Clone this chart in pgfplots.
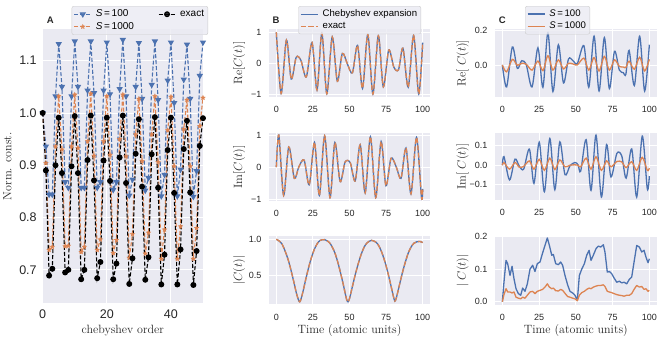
\documentclass[border=0pt]{standalone}
\usepackage{fontspec}
\usepackage{pgfplots}
\usepackage{pgfplotstable}
\pgfplotsset{compat=1.18}
\newfontfamily\lsans{Liberation Sans}
\definecolor{bgcol}{HTML}{EAEAF2}
\definecolor{cblue}{HTML}{4C72B0}
\definecolor{corange}{HTML}{DD8452}
\definecolor{framecol}{HTML}{CCCCCC}

% filled star marker (matplotlib '*')
\pgfdeclareplotmark{fstar}{%
  \pgfpathmoveto{\pgfpointpolar{90}{\pgfplotmarksize}}%
  \pgfpathlineto{\pgfpointpolar{126}{0.45\pgfplotmarksize}}%
  \pgfpathlineto{\pgfpointpolar{162}{\pgfplotmarksize}}%
  \pgfpathlineto{\pgfpointpolar{198}{0.45\pgfplotmarksize}}%
  \pgfpathlineto{\pgfpointpolar{234}{\pgfplotmarksize}}%
  \pgfpathlineto{\pgfpointpolar{270}{0.45\pgfplotmarksize}}%
  \pgfpathlineto{\pgfpointpolar{306}{\pgfplotmarksize}}%
  \pgfpathlineto{\pgfpointpolar{342}{0.45\pgfplotmarksize}}%
  \pgfpathlineto{\pgfpointpolar{18}{\pgfplotmarksize}}%
  \pgfpathlineto{\pgfpointpolar{54}{0.45\pgfplotmarksize}}%
  \pgfpathclose
  \pgfusepathqfillstroke
}

% panel A: normalisation constant vs chebyshev order
\pgfplotstableread{
x  a     b     e
0  1.000 1.000 1.000
1  0.936 0.904 0.890
2  0.844 0.738 0.689
3  0.844 0.744 0.702
4  1.032 0.936 0.900
5  1.132 1.032 0.991
6  1.050 0.930 0.885
7  0.868 0.745 0.695
8  0.857 0.746 0.700
9  1.032 0.936 0.898
10 1.137 1.035 0.994
11 1.050 0.933 0.885
12 0.857 0.734 0.682
13 0.857 0.744 0.700
14 1.043 0.946 0.910
15 1.137 1.037 0.995
16 1.038 0.918 0.871
17 0.857 0.738 0.684
18 0.868 0.758 0.715
19 1.043 0.946 0.909
20 1.135 1.032 0.991
21 1.036 0.920 0.870
22 0.853 0.732 0.682
23 0.868 0.757 0.712
24 1.046 0.950 0.915
25 1.140 1.035 0.995
26 1.032 0.917 0.866
27 0.842 0.723 0.673
28 0.873 0.768 0.722
29 1.050 0.959 0.922
30 1.134 1.027 0.988
31 1.027 0.908 0.859
32 0.852 0.731 0.681
33 0.876 0.771 0.724
34 1.054 0.959 0.921
35 1.137 1.032 0.992
36 1.025 0.906 0.857
37 0.841 0.721 0.672
38 0.882 0.777 0.729
39 1.062 0.967 0.929
40 1.135 1.031 0.991
41 1.019 0.898 0.847
42 0.841 0.721 0.672
43 0.892 0.783 0.739
44 1.064 0.969 0.931
45 1.131 1.025 0.985
46 1.027 0.898 0.848
47 0.840 0.721 0.671
48 0.889 0.780 0.736
49 1.071 0.975 0.937
50 1.135 1.029 0.990
}\normA

\pgfplotstableread{
t    v
0    1.00
3.3  -0.96
6.9  0.75
10.2 -0.50
13.6 0.20
16.8 0.10
20.5 -0.43
24.4 0.67
27.8 -0.85
31.1 0.97
34.5 -0.97
38.2 0.85
41.7 -0.57
45.1 0.32
48.6 -0.02
52.0 -0.30
55.5 0.58
58.9 -0.80
62.5 0.93
66.0 -0.98
69.7 0.89
73.1 -0.75
76.8 0.43
80.3 -0.12
83.5 -0.20
86.5 0.49
90.1 -0.76
93.8 0.90
97.3 -0.98
100  0.67
}\reC

\pgfplotstableread{
t    v
0    0.00
1.7  1.00
5.0  -0.88
8.5  0.63
12.3 -0.35
15.3 0.00
19.0 0.22
22.5 -0.55
26.1 0.77
29.4 -0.88
33.0 0.98
36.7 -0.95
40.0 0.77
43.6 -0.45
47.0 0.16
50.5 0.14
53.9 -0.43
57.3 0.70
60.7 -0.80
64.3 0.95
67.9 -0.95
71.6 0.80
74.9 -0.58
78.4 0.28
82.0 0.00
85.2 -0.35
88.6 0.60
92.0 -0.83
95.8 0.93
99.2 -0.95
100  -0.68
}\imC

\pgfplotstableread{
t   v
0   1.000
2   0.975
4   0.930
6   0.835
8   0.720
10  0.570
12  0.400
14  0.225
16  0.125
18  0.250
20  0.430
22  0.600
24  0.745
26  0.860
28  0.940
30  0.985
33  0.995
36  0.960
38  0.900
40  0.810
42  0.680
44  0.520
46  0.345
48  0.160
49  0.125
50  0.170
52  0.340
54  0.510
56  0.660
58  0.790
60  0.890
62  0.950
65  0.985
68  0.960
70  0.910
72  0.820
74  0.700
76  0.550
78  0.380
80  0.200
81  0.135
82  0.180
84  0.350
86  0.520
88  0.670
90  0.800
92  0.890
94  0.945
96  0.965
98  0.970
100 0.955
}\absC

\pgfplotstableread{
t    a      b
0    0.000  0.000
2.9  -0.128 -0.040
6.8  0.105  0.033
10.2 -0.020 -0.002
13.2 0.025  0.010
16.3 0.000  0.004
20.2 -0.128 -0.030
24.2 0.100  0.023
27.6 -0.130 -0.033
31.0 0.188  0.054
34.4 -0.155 -0.030
38.1 0.118  0.030
41.6 -0.105 -0.023
45.0 0.035  0.010
48.0 0.025  0.006
51.0 0.008  0.000
55.5 0.112  0.040
58.8 -0.130 -0.030
62.4 0.168  0.043
65.8 -0.152 -0.035
69.4 0.160  0.050
72.8 -0.138 -0.030
76.3 0.080  0.030
79.6 -0.030 -0.008
82.3 -0.045 -0.012
84.0 -0.055 -0.015
86.2 0.085  0.022
89.8 -0.120 -0.025
93.4 0.168  0.045
96.8 -0.152 -0.035
100  0.118  0.033
}\reD

\pgfplotstableread{
t    a      b
0    0.000  0.000
1.1  0.044  0.014
4.9  -0.075 -0.020
8.6  0.031  0.014
11.5 -0.005 -0.010
14.5 -0.020 -0.006
18.4 0.082  0.022
21.5 -0.092 -0.020
25.1 0.117  0.030
28.6 -0.135 -0.026
32.3 0.136  0.036
35.7 -0.125 -0.022
39.1 0.119  0.027
42.6 -0.048 -0.008
46.0 -0.003 0.000
49.4 0.014  0.002
51.5 0.002  0.000
53.3 -0.030 -0.008
57.0 0.130  0.036
60.3 -0.128 -0.020
63.7 0.153  0.043
67.4 -0.162 -0.026
70.9 0.105  0.022
73.9 -0.060 -0.008
77.9 0.060  0.019
81.2 0.048  0.017
84.2 -0.066 -0.012
88.0 0.083  0.018
91.4 -0.162 -0.026
95.2 0.148  0.040
98.6 -0.120 -0.026
100  -0.055 -0.015
}\imD

\pgfplotstableread{
t    a     b
0    0.000 0.000
1.1  0.060 0.022
2.5  0.127 0.040
3.6  0.117 0.030
5.2  0.081 0.030
6.6  0.109 0.027
7.9  0.071 0.030
9.3  0.040 0.014
10.9 0.025 0.011
12.5 0.020 0.009
13.8 0.042 0.014
15.4 0.032 0.011
17.0 0.055 0.020
18.8 0.100 0.030
20.6 0.112 0.032
22.2 0.093 0.025
23.8 0.117 0.032
25.6 0.122 0.035
27.4 0.150 0.038
29.0 0.173 0.045
30.6 0.196 0.055
32.0 0.173 0.045
33.6 0.143 0.040
34.7 0.145 0.042
36.3 0.117 0.034
38.1 0.114 0.033
39.7 0.122 0.038
41.0 0.112 0.035
42.6 0.081 0.026
44.4 0.052 0.016
46.0 0.032 0.014
47.8 0.027 0.011
49.4 0.020 0.009
51.0 0.004 0.003
52.4 0.081 0.020
54.0 0.100 0.028
55.8 0.117 0.032
57.4 0.143 0.038
59.0 0.158 0.042
60.3 0.127 0.040
61.9 0.143 0.045
63.7 0.163 0.048
65.3 0.171 0.050
66.9 0.168 0.050
68.7 0.175 0.052
69.8 0.153 0.047
71.4 0.091 0.032
72.8 0.093 0.030
74.4 0.086 0.028
76.0 0.073 0.025
77.8 0.060 0.022
79.6 0.063 0.020
81.2 0.058 0.019
82.8 0.060 0.017
84.6 0.055 0.020
86.4 0.069 0.020
88.0 0.076 0.025
89.6 0.122 0.038
91.4 0.173 0.050
93.2 0.168 0.045
94.8 0.153 0.047
96.4 0.158 0.038
97.7 0.137 0.040
99.1 0.120 0.032
100  0.132 0.035
}\absD

\pgfplotsset{
  sb/.style={
    scale only axis,
    anchor=south west,
    axis background/.style={fill=bgcol},
    axis line style={draw=none},
    major tick length=0pt,
    grid=major,
    grid style={white, line width=0.9pt},
    tick label style={font=\lsans\fontsize{9}{10}\selectfont, text=black!85},
    label style={font=\fontsize{12}{14}\selectfont, text=black!85},
    legend cell align=left,
  },
  tser/.style={
    sb,
    width=161pt,
    xmin=-5, xmax=105,
    xtick={0,25,50,75,100},
    xticklabels={0,25,50,75,100},
    xticklabel style={yshift=-6pt},
    yticklabel style={xshift=-4pt},
  },
  lgd/.style n args={2}{
    legend style={
      at={(#1)}, anchor=north west,
      font=\lsans\fontsize{#2}{#2}\selectfont,
      fill=bgcol, fill opacity=0.8, text opacity=1,
      draw=framecol, rounded corners=2pt,
      inner sep=1.8pt,
      /tikz/every odd column/.append style={column sep=2pt},
    },
  },
}

\begin{document}
\begin{tikzpicture}
\path[use as bounding box] (0,0) rectangle (664pt,343pt);

% ---------- A ----------
\begin{axis}[sb,
  at={(42.7pt,39.7pt)}, width=160.3pt, height=274pt,
  xmin=0, xmax=50, ymin=0.636, ymax=1.16,
  xtick={0,20,40}, xticklabels={0,20,40},
  ytick={0.7,0.8,0.9,1.0,1.1}, yticklabels={0.7,0.8,0.9,1.0,1.1},
  tick label style={font=\lsans\fontsize{12.5}{14}\selectfont},
  xticklabel style={yshift=-3pt},
  yticklabel style={xshift=-2.5pt},
  xlabel={chebyshev order}, ylabel={Norm. const.},
  xlabel style={at={(axis description cs:0.5,-0.101)}, anchor=center},
  ylabel style={at={(axis description cs:-0.221,0.5)}, anchor=center},
  legend columns=2,
  lgd={0.181,1.085}{10},
  legend style={/tikz/every even column/.append style={column sep=22pt}},
]
\addplot[cblue, line width=1.1pt, dash pattern=on 4pt off 2pt, mark=triangle*, mark size=2.6pt, mark options={rotate=180, solid}, forget plot] table[x=x, y=a] {\normA};
\addplot[corange, line width=1.1pt, dash pattern=on 4pt off 2pt, mark=fstar, mark size=2.4pt, mark options={solid, line width=0.3pt}, forget plot] table[x=x, y=b] {\normA};
\addplot[black, line width=1.1pt, dash pattern=on 4pt off 2pt, mark=*, mark size=2.4pt, mark options={solid}, forget plot] table[x=x, y=e] {\normA};
\addlegendimage{cblue, line width=1.1pt, dash pattern=on 4pt off 2pt, mark=triangle*, mark size=2.6pt, mark options={rotate=180, solid}}
\addlegendentry{\textit{S}\,=\,100}
\addlegendimage{black, line width=1.1pt, dash pattern=on 4pt off 2pt, mark=*, mark size=2.4pt, mark options={solid}}
\addlegendentry{exact}
\addlegendimage{corange, line width=1.1pt, dash pattern=on 4pt off 2pt, mark=fstar, mark size=2.4pt, mark options={solid, line width=0.3pt}}
\addlegendentry{\textit{S}\,=\,1000}
\end{axis}

% ---------- B ----------
\begin{axis}[tser,
  at={(269pt,246pt)}, height=68pt,
  ymin=-1.075, ymax=1.105,
  ytick={-1,0,1}, yticklabels={−1,0,1},
  ylabel={$\mathrm{Re}[C(t)]$},
  ylabel style={at={(axis description cs:-0.186,0.5)}, anchor=center},
  lgd={0.182,1.338}{9.6},
]
\addplot[cblue, line width=1.3pt, smooth] table[x=t, y=v] {\reC};
\addlegendentry{Chebyshev expansion}
\addplot[corange, line width=1.3pt, smooth, dash pattern=on 5pt off 2.4pt] table[x=t, y=v] {\reC};
\addlegendentry{exact}
\end{axis}

\begin{axis}[tser,
  at={(269pt,142.3pt)}, height=67.7pt,
  ymin=-1.045, ymax=1.065,
  ytick={-1,0,1}, yticklabels={−1,0,1},
  ylabel={$\mathrm{Im}[C(t)]$},
  ylabel style={at={(axis description cs:-0.186,0.5)}, anchor=center},
]
\addplot[cblue, line width=1.3pt, smooth] table[x=t, y=v] {\imC};
\addplot[corange, line width=1.3pt, smooth, dash pattern=on 5pt off 2.4pt] table[x=t, y=v] {\imC};
\end{axis}

\begin{axis}[tser,
  at={(269pt,38.7pt)}, height=68.3pt,
  ymin=0.09, ymax=1.046,
  ytick={0.5,1.0}, yticklabels={0.5,1.0},
  ylabel={$|C(t)|$},
  ylabel style={at={(axis description cs:-0.186,0.5)}, anchor=center},
  xlabel={Time (atomic units)},
  xlabel style={at={(axis description cs:0.5,-0.388)}, anchor=center},
]
\addplot[cblue, line width=1.3pt, smooth] table[x=t, y=v] {\absC};
\addplot[corange, line width=1.3pt, smooth, dash pattern=on 5pt off 2.4pt] table[x=t, y=v] {\absC};
\end{axis}

% ---------- C ----------
\begin{axis}[tser,
  at={(495pt,246pt)}, width=161.7pt, height=68pt,
  ymin=-0.187, ymax=0.21,
  ytick={0,0.2}, yticklabels={0.0,0.2},
  ylabel={$\mathrm{Re}[\mathit{\Delta} C(t)]$},
  ylabel style={at={(axis description cs:-0.2,0.5)}, anchor=center},
  lgd={0.186,1.338}{9.6},
]
\addplot[cblue, line width=1.3pt, smooth] table[x=t, y=a] {\reD};
\addlegendentry{\textit{S}\,=\,100}
\addplot[corange, line width=1.3pt, smooth] table[x=t, y=b] {\reD};
\addlegendentry{\textit{S}\,=\,1000}
\end{axis}

\begin{axis}[tser,
  at={(495pt,143pt)}, width=161.7pt, height=67pt,
  ymin=-0.177, ymax=0.164,
  ytick={-0.1,0,0.1}, yticklabels={−0.1,0.0,0.1},
  ylabel={$\mathrm{Im}[\mathit{\Delta} C(t)]$},
  ylabel style={at={(axis description cs:-0.2,0.5)}, anchor=center},
]
\addplot[cblue, line width=1.3pt, smooth] table[x=t, y=a] {\imD};
\addplot[corange, line width=1.3pt, smooth] table[x=t, y=b] {\imD};
\end{axis}

\begin{axis}[tser,
  at={(495pt,38pt)}, width=161.7pt, height=69pt,
  ymin=-0.01, ymax=0.202,
  ytick={0,0.1,0.2}, yticklabels={0.0,0.1,0.2},
  ylabel={$|\mathit{\Delta} C(t)|$},
  ylabel style={at={(axis description cs:-0.2,0.5)}, anchor=center},
  xlabel={Time (atomic units)},
  xlabel style={at={(axis description cs:0.5,-0.372)}, anchor=center},
]
\addplot[cblue, line width=1.3pt, line join=round] table[x=t, y=a] {\absD};
\addplot[corange, line width=1.3pt, line join=round] table[x=t, y=b] {\absD};
\end{axis}

% panel letters
\node[font=\lsans\bfseries\fontsize{9.5}{10}\selectfont, text=black!85, anchor=base west] at (43.3pt,319pt) {A};
\node[font=\lsans\bfseries\fontsize{9.5}{10}\selectfont, text=black!85, anchor=base west] at (269pt,319pt) {B};
\node[font=\lsans\bfseries\fontsize{9.5}{10}\selectfont, text=black!85, anchor=base west] at (495.3pt,319pt) {C};
\end{tikzpicture}
\end{document}
